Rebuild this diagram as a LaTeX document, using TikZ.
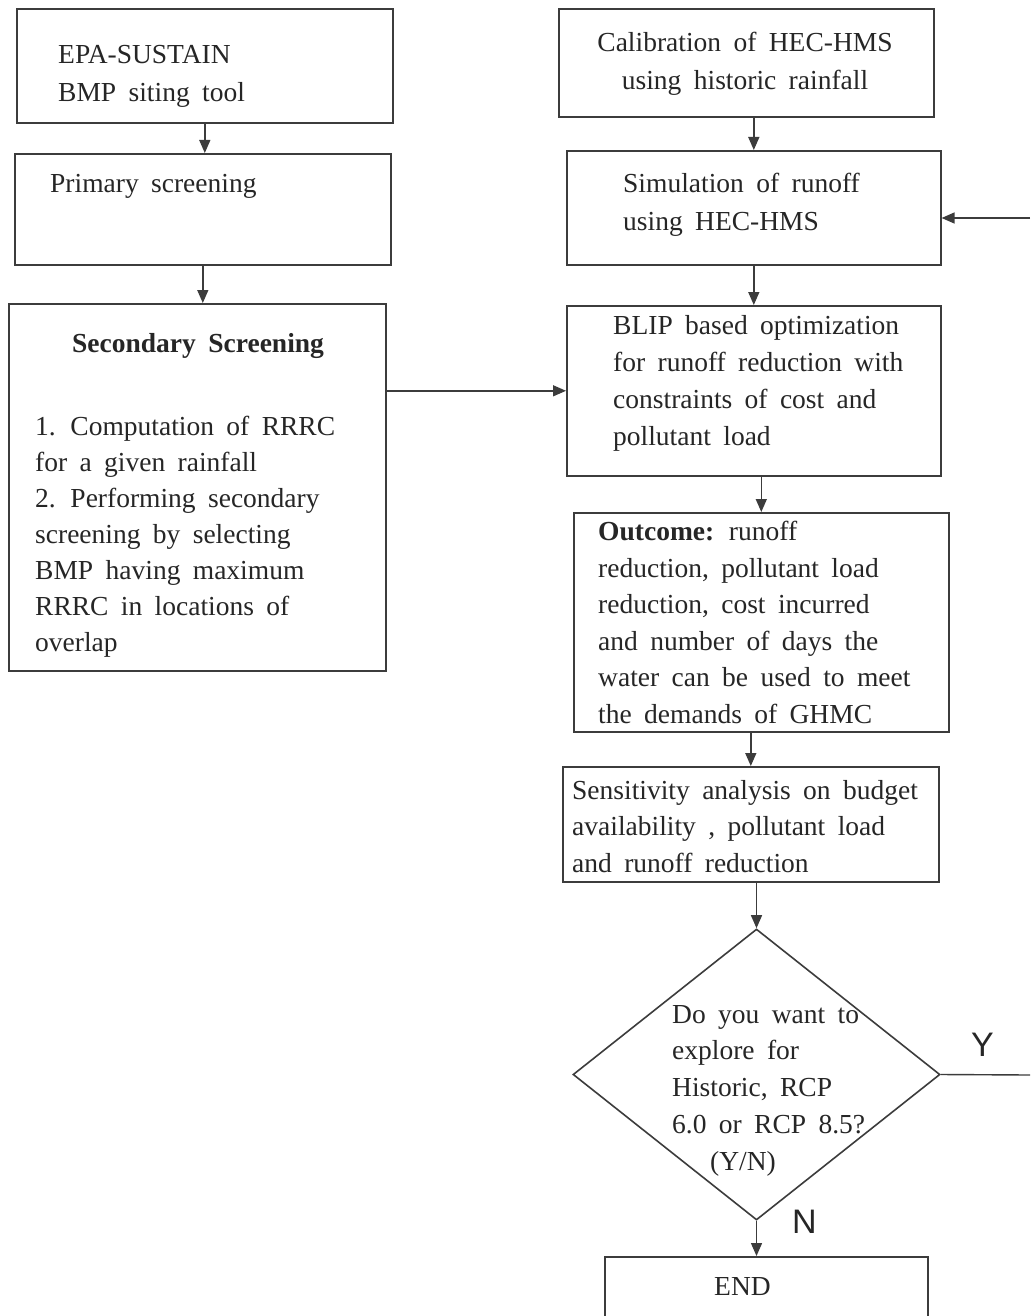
\documentclass[tikz,border=0pt]{standalone}
\usepackage{fontspec}
\setmainfont{Liberation Serif}[WordSpace=1.8]
\newfontfamily\labelsans{Liberation Sans}
\usetikzlibrary{arrows.meta,shapes.geometric}
\definecolor{ink}{HTML}{262626}
\definecolor{edge}{HTML}{3C3C3C}
\tikzset{
 boxnode/.style={draw=edge, line width=1.6pt, inner sep=0pt, anchor=north west},
 txt/.style={anchor=base west, inner sep=0pt, align=left, text=ink, font=\fontsize{27.5}{36.5}\selectfont},
 arr/.style={draw=edge, line width=1.4pt, -{Triangle[length=13pt,width=11pt]}},
 plainline/.style={draw=edge, line width=1.4pt},
 yn/.style={anchor=base west, inner sep=0pt, text=ink, font=\labelsans\fontsize{34}{34}\selectfont}
}
\begin{document}
\begin{tikzpicture}[x=1pt,y=-1pt]
\useasboundingbox[fill=white] (0,0) rectangle (1030,1316);
% boxes
\node[boxnode, minimum width=376pt, minimum height=114pt] (epa) at (16,8) {};
\node[boxnode, minimum width=376pt, minimum height=111pt] (prim) at (14,153) {};
\node[boxnode, minimum width=377pt, minimum height=367pt] (sec) at (8,303) {};
\node[boxnode, minimum width=375pt, minimum height=108pt] (calib) at (558,8) {};
\node[boxnode, minimum width=374pt, minimum height=114pt] (sim) at (566,150) {};
\node[boxnode, minimum width=374pt, minimum height=170pt] (blip) at (566,305) {};
\node[boxnode, minimum width=375pt, minimum height=219pt] (outc) at (573,512) {};
\node[boxnode, minimum width=376pt, minimum height=115pt] (sens) at (562,766) {};
\node[draw=edge, line width=1.6pt, diamond, inner sep=0pt, minimum width=367pt, minimum height=291pt] (dia) at (756.5,1074.5) {};
\node[boxnode, minimum width=323pt, minimum height=120pt] (endbox) at (604,1256) {};
% texts (anchor base = baseline of the last line)
\node[txt, font=\fontsize{27.5}{38}\selectfont] (tepa) at (58,102) {EPA-SUSTAIN\\BMP siting tool};
\node[txt] (tprim) at (50,193) {Primary screening};
\node[txt, font=\bfseries\fontsize{27.5}{36.5}\selectfont] (tsec1) at (72,352) {Secondary Screening};
\node[txt, font=\fontsize{27.5}{36}\selectfont] (tsec2) at (35,651) {1. Computation of RRRC\\for a given rainfall\\2. Performing secondary\\screening by selecting\\BMP having maximum\\RRRC in locations of\\overlap};
\node[txt, anchor=base, align=center, font=\fontsize{27.5}{38}\selectfont] (tcalib) at (745,90) {Calibration of HEC-HMS\\using historic rainfall};
\node[txt, font=\fontsize{27.5}{38}\selectfont] (tsim) at (623,230) {Simulation of runoff\\using HEC-HMS};
\node[txt, font=\fontsize{27.5}{37}\selectfont] (tblip) at (613,445) {BLIP based optimization\\for runoff reduction with\\constraints of cost and\\pollutant load};
\node[txt] (toutc) at (598,723) {\textbf{Outcome:} runoff\\reduction, pollutant load\\reduction, cost incurred\\and number of days the\\water can be used to meet\\the demands of GHMC};
\node[txt, font=\fontsize{27.5}{36.5}\selectfont] (tsens) at (572,872) {Sensitivity analysis on budget\\availability , pollutant load\\and runoff reduction};
\node[txt, font=\fontsize{27.5}{36.75}\selectfont] (tdia) at (672,1170) {Do you want to\\explore for\\Historic, RCP\\6.0 or RCP 8.5?\\\hspace*{38pt}(Y/N)};
\node[txt] (tend) at (714,1295) {END};
\node[yn] (ylab) at (971,1056) {Y};
\node[yn] (nlab) at (792,1233) {N};
% edge coordinates
\coordinate (yout) at (1030,1075);
\coordinate (back) at (1030,218);
% connectors
\draw[arr] (epa.south) -- (epa.south |- prim.north);
\draw[arr] (prim.south) -- (prim.south |- sec.north);
\draw[arr] (sec.east |- blip.west) -- (blip.west);
\draw[arr] (sim.north |- calib.south) -- (sim.north);
\draw[arr] (back) -- (back -| sim.east);
\draw[arr] (sim.south) -- (blip.north);
\draw[arr] (blip.south -| outc.north) -- (outc.north);
\draw[arr] (outc.south -| sens.north) -- (sens.north);
\draw[arr] (sens.south -| dia.north) -- (dia.north);
\draw[plainline] (dia.east) -- (yout);
\draw[arr] (dia.south) -- (dia.south |- endbox.north);
\end{tikzpicture}
\end{document}
